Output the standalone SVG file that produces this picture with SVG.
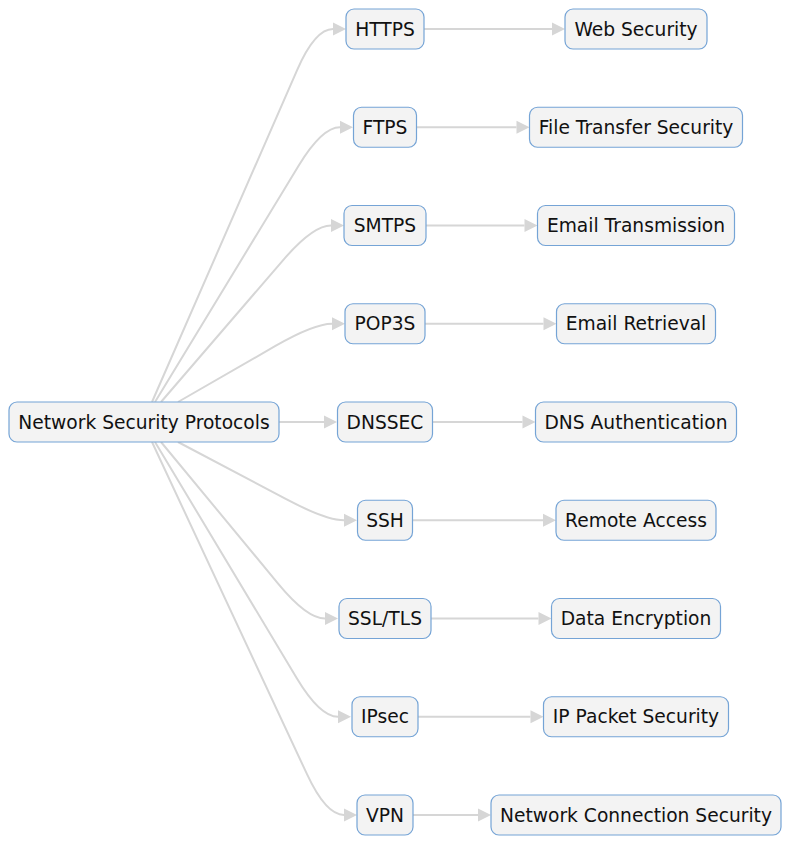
<svg xmlns="http://www.w3.org/2000/svg" width="800" height="854" viewBox="0 0 800 854">
<style>
.n rect{fill:#f3f3f3;stroke:#75a4d6;stroke-width:1.2}
.n text{font-family:"DejaVu Sans",sans-serif;font-size:18.67px;fill:#111;text-anchor:middle}
.e path{fill:none;stroke:#d6d6d6;stroke-width:2;marker-end:url(#ah)}
</style>
<defs>
<marker id="ah" markerUnits="userSpaceOnUse" markerWidth="14" markerHeight="14" refX="0" refY="6.5" orient="auto" overflow="visible">
<path d="M0,0 L13,6.5 L0,13 z" fill="#d6d6d6"/>
</marker>
</defs>
<rect width="800" height="854" fill="#fff"/>
<g class="e" id="edges">
<path d="M152,402 L297,70.3 Q315,29 333,29"/>
<path d="M155,402 L298.6,165.7 Q322,127.25 340,127.25"/>
<path d="M161,402 L283.6,259.6 Q313,225.5 331,225.5"/>
<path d="M178,402 L275,346.2 Q314,323.75 332,323.75"/>
<path d="M279,422 L324,422"/>
<path d="M178,442 L286.2,499.2 Q326,520.25 344,520.25"/>
<path d="M161,442 L278.3,583.8 Q307,618.5 325,618.5"/>
<path d="M155,442 L296.8,678.2 Q320,716.75 338,716.75"/>
<path d="M152,442 L307,774.2 Q326,815 344,815"/>
<path d="M424,29 L552,29"/>
<path d="M416.5,127.25 L516.5,127.25"/>
<path d="M426,225.5 L524.5,225.5"/>
<path d="M425,323.75 L543.5,323.75"/>
<path d="M432.5,422 L522.5,422"/>
<path d="M412.5,520.25 L543,520.25"/>
<path d="M431,618.5 L538.5,618.5"/>
<path d="M418,716.75 L530.5,716.75"/>
<path d="M413,815 L478,815"/>
</g>
<g class="n" id="root"><rect x="9" y="402" width="270" height="40" rx="8"/><text x="144" y="428.5">Network Security Protocols</text></g>
<g class="n" id="https"><rect x="346" y="9" width="78" height="40" rx="8"/><text x="385" y="35.5">HTTPS</text></g>
<g class="n" id="ftps"><rect x="353.5" y="107.25" width="63" height="40" rx="8"/><text x="385" y="133.75">FTPS</text></g>
<g class="n" id="smtps"><rect x="344" y="205.5" width="82" height="40" rx="8"/><text x="385" y="232">SMTPS</text></g>
<g class="n" id="pop3s"><rect x="345" y="303.75" width="80" height="40" rx="8"/><text x="385" y="330.25">POP3S</text></g>
<g class="n" id="dnssec"><rect x="337.5" y="402" width="95" height="40" rx="8"/><text x="385" y="428.5">DNSSEC</text></g>
<g class="n" id="ssh"><rect x="357.5" y="500.25" width="55" height="40" rx="8"/><text x="385" y="526.75">SSH</text></g>
<g class="n" id="ssltls"><rect x="339" y="598.5" width="92" height="40" rx="8"/><text x="385" y="625">SSL/TLS</text></g>
<g class="n" id="ipsec"><rect x="352" y="696.75" width="66" height="40" rx="8"/><text x="385" y="723.25">IPsec</text></g>
<g class="n" id="vpn"><rect x="357" y="795" width="56" height="40" rx="8"/><text x="385" y="821.5">VPN</text></g>
<g class="n" id="websec"><rect x="565" y="9" width="142" height="40" rx="8"/><text x="636" y="35.5">Web Security</text></g>
<g class="n" id="fts"><rect x="529.5" y="107.25" width="213" height="40" rx="8"/><text x="636" y="133.75">File Transfer Security</text></g>
<g class="n" id="etx"><rect x="537.5" y="205.5" width="197" height="40" rx="8"/><text x="636" y="232">Email Transmission</text></g>
<g class="n" id="eret"><rect x="556.5" y="303.75" width="159" height="40" rx="8"/><text x="636" y="330.25">Email Retrieval</text></g>
<g class="n" id="dnsauth"><rect x="535.5" y="402" width="201" height="40" rx="8"/><text x="636" y="428.5">DNS Authentication</text></g>
<g class="n" id="remote"><rect x="556" y="500.25" width="160" height="40" rx="8"/><text x="636" y="526.75">Remote Access</text></g>
<g class="n" id="dataenc"><rect x="551.5" y="598.5" width="169" height="40" rx="8"/><text x="636" y="625">Data Encryption</text></g>
<g class="n" id="ippkt"><rect x="543.5" y="696.75" width="185" height="40" rx="8"/><text x="636" y="723.25">IP Packet Security</text></g>
<g class="n" id="netconn"><rect x="491" y="795" width="290" height="40" rx="8"/><text x="636" y="821.5">Network Connection Security</text></g>
</svg>
